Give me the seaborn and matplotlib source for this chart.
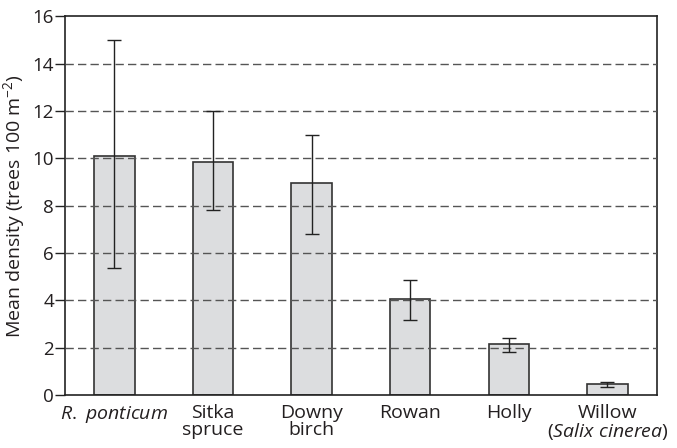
import matplotlib
matplotlib.use('Agg')
import matplotlib.pyplot as plt
import seaborn as sns

# Данные
species = ['R. ponticum', 'Sitka spruce', 'Downy birch', 'Rowan', 'Holly', 'Willow (Salix cinerea)']
tick_labels = ['$\\mathit{R.\\ ponticum}$', 'Sitka\nspruce', 'Downy\nbirch', 'Rowan', 'Holly',
               'Willow\n($\\mathit{Salix\\ cinerea}$)']
mean_density = [10.1, 9.85, 8.95, 4.05, 2.15, 0.47]
err_upper = [15.0, 12.0, 11.0, 4.85, 2.4, 0.55]
err_lower = [5.35, 7.8, 6.8, 3.17, 1.83, 0.36]
grid_levels = [2, 4, 6, 8, 10, 12, 14]

sns.set_style('white')
plt.rcParams['font.family'] = ['Open Sans', 'DejaVu Sans']
plt.rcParams['mathtext.fontset'] = 'custom'
plt.rcParams['mathtext.rm'] = 'Open Sans'
plt.rcParams['mathtext.it'] = 'Open Sans:italic'

text_col = '#231f20'

fig = plt.figure(figsize=(6.77, 4.48), dpi=100)
ax = fig.add_axes([0.096, 0.118, 0.874, 0.846])

sns.barplot(x=species, y=mean_density, color='#dcdddf', edgecolor='#333333',
            linewidth=1.2, width=0.41, saturation=1, ax=ax, zorder=2)

yerr = [[m - lo for m, lo in zip(mean_density, err_lower)],
        [hi - m for m, hi in zip(mean_density, err_upper)]]
ax.errorbar(range(len(species)), mean_density, yerr=yerr, fmt='none',
            ecolor='#222222', elinewidth=1.0, capsize=4.7, capthick=1.0, zorder=4)

# Пунктирные линии сетки поверх столбцов
for lvl in grid_levels:
    ax.axhline(lvl, color='#555555', linewidth=1.0, linestyle=(0, (6, 3)), zorder=3)

ax.set_xlim(-0.5, 5.5)
ax.set_ylim(0, 16)
ax.set_yticks(range(0, 17, 2))
ax.set_xticks(range(len(species)))
ax.set_xticklabels(tick_labels, fontsize=14, color=text_col, linespacing=0.95)
ax.tick_params(axis='y', labelsize=13.5, labelcolor=text_col, left=True, length=7,
               width=1.0, color='#222222', pad=1)
ax.tick_params(axis='x', bottom=False, pad=3)
ax.set_xlabel('')
ax.set_ylabel('Mean density (trees 100 m$^{-2}$)', fontsize=14, color=text_col, labelpad=4)

for s in ax.spines.values():
    s.set_color('#222222')
    s.set_linewidth(1.2)

fig.savefig('out.png', dpi=100)
